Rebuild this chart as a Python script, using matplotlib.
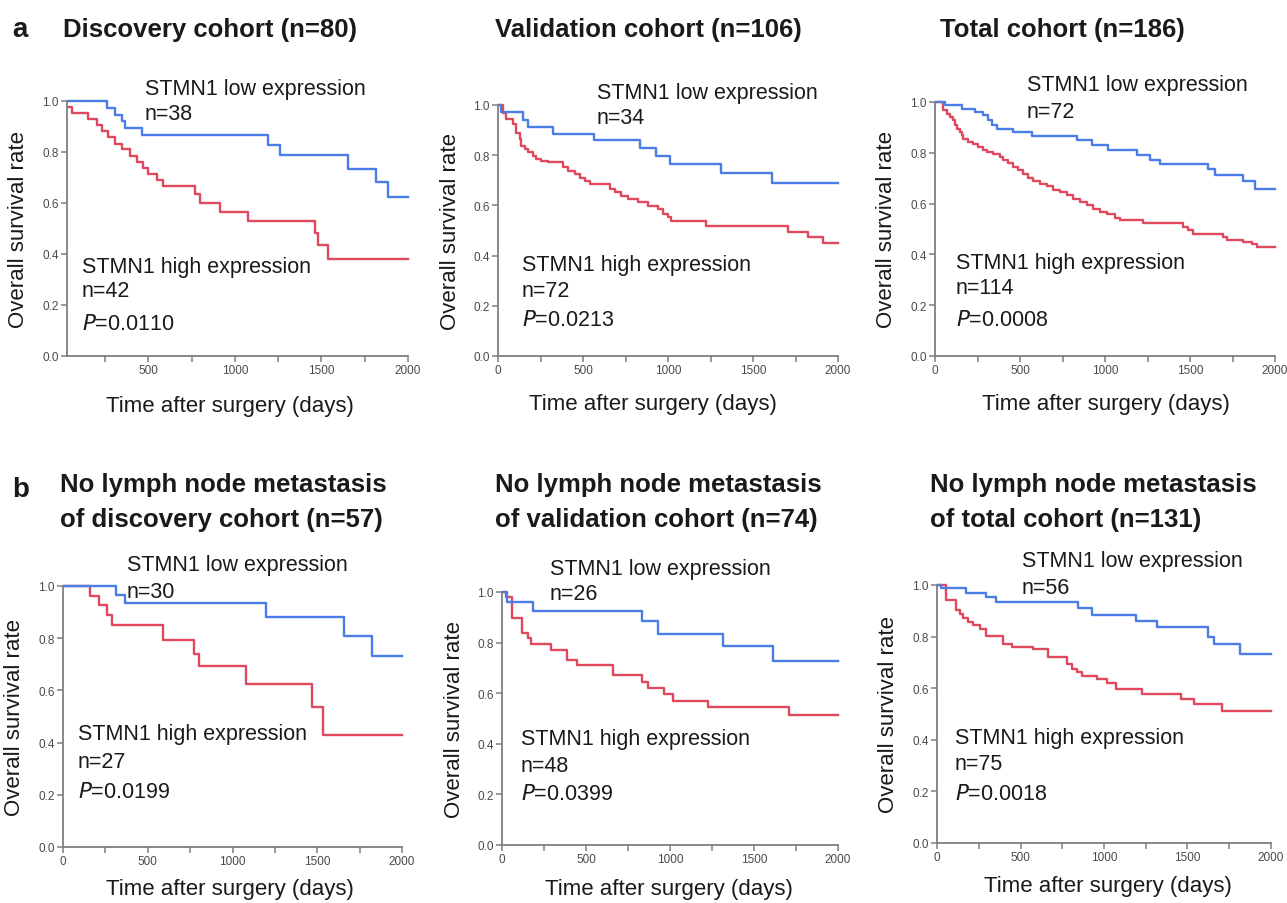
import matplotlib
matplotlib.use("Agg")
import matplotlib.pyplot as plt
from matplotlib.transforms import Bbox, TransformedBbox
from matplotlib.ticker import MultipleLocator, FormatStrFormatter

plt.rcParams['font.family'] = ['Liberation Sans', 'DejaVu Sans']

W, H = 1287, 904
BLUE = "#4a7de6"
RED = "#e0485e"
AXC = "#7f7f7f"
TXT = "#1a1a1a"

# ---------------- data (days, survival) ----------------
p1_low_t = [0, 260, 308, 346, 365, 462, 1192, 1263, 1654, 1817, 1885, 2000]
p1_low_s = [1.0, 0.974, 0.947, 0.921, 0.895, 0.868, 0.828, 0.787, 0.733, 0.681, 0.625, 0.625]
p1_high_t = [0, 20, 58, 154, 202, 231, 269, 308, 346, 394, 433, 471, 500, 548, 587,
             769, 798, 913, 1077, 1462, 1481, 1538, 2000]
p1_high_s = [1.0, 0.976, 0.952, 0.929, 0.905, 0.881, 0.857, 0.833, 0.810, 0.786, 0.762,
             0.738, 0.714, 0.690, 0.667, 0.635, 0.600, 0.565, 0.528, 0.484, 0.435, 0.380, 0.380]

p2_low_t = [0, 20, 147, 176, 324, 565, 833, 931, 1010, 1314, 1612, 2000]
p2_low_s = [1.0, 0.971, 0.941, 0.912, 0.885, 0.860, 0.830, 0.798, 0.766, 0.729, 0.690, 0.690]
p2_high_t = [0, 29, 49, 88, 108, 127, 137, 157, 176, 206, 225, 255, 294, 382, 412, 451,
             480, 510, 539, 657, 686, 725, 765, 824, 882, 941, 971, 1000, 1020, 1225,
             1706, 1824, 1912, 2000]
p2_high_s = [1.0, 0.970, 0.943, 0.923, 0.890, 0.864, 0.837, 0.824, 0.811, 0.797, 0.784,
             0.777, 0.771, 0.751, 0.738, 0.725, 0.711, 0.698, 0.685, 0.665, 0.652, 0.638,
             0.625, 0.612, 0.599, 0.585, 0.566, 0.552, 0.539, 0.519, 0.493, 0.473, 0.449, 0.449]

p3_low_t = [0, 59, 157, 235, 284, 314, 333, 363, 461, 569, 833, 922, 1020, 1186, 1265,
            1324, 1608, 1647, 1814, 1882, 2000]
p3_low_s = [1.0, 0.987, 0.974, 0.961, 0.948, 0.928, 0.908, 0.895, 0.882, 0.866, 0.849,
            0.829, 0.810, 0.790, 0.770, 0.755, 0.738, 0.711, 0.689, 0.659, 0.659]
p3_high_t = [0, 49, 69, 88, 108, 118, 127, 147, 157, 167, 196, 225, 255, 284, 304, 343,
             382, 402, 431, 461, 490, 520, 549, 578, 618, 657, 696, 735, 775, 814, 853,
             892, 931, 971, 1010, 1059, 1088, 1225, 1461, 1490, 1520, 1696, 1716, 1814,
             1863, 1892, 2000]
p3_high_s = [1.0, 0.967, 0.954, 0.941, 0.928, 0.908, 0.895, 0.882, 0.869, 0.856, 0.843,
             0.833, 0.823, 0.812, 0.803, 0.794, 0.783, 0.770, 0.760, 0.744, 0.731, 0.718,
             0.702, 0.689, 0.678, 0.668, 0.655, 0.644, 0.633, 0.619, 0.606, 0.593, 0.580,
             0.567, 0.558, 0.545, 0.534, 0.524, 0.508, 0.495, 0.482, 0.469, 0.455, 0.449,
             0.442, 0.429, 0.429]

p4_low_t = [0, 314, 363, 1196, 1657, 1824, 2000]
p4_low_s = [1.0, 0.967, 0.933, 0.881, 0.807, 0.730, 0.730]
p4_high_t = [0, 157, 212, 261, 290, 592, 771, 804, 1078, 1471, 1535, 2000]
p4_high_s = [1.0, 0.963, 0.926, 0.889, 0.852, 0.794, 0.741, 0.692, 0.623, 0.536, 0.430, 0.430]

p5_low_t = [0, 30, 182, 834, 929, 1318, 1615, 2000]
p5_low_s = [1.0, 0.962, 0.923, 0.884, 0.835, 0.785, 0.727, 0.727]
p5_high_t = [0, 25, 59, 117, 152, 172, 290, 389, 449, 662, 834, 868, 962, 1018, 1229, 1709, 2000]
p5_high_s = [1.0, 0.979, 0.898, 0.837, 0.818, 0.795, 0.771, 0.732, 0.712, 0.670, 0.646,
             0.621, 0.597, 0.571, 0.544, 0.515, 0.515]

p6_low_t = [0, 26, 176, 296, 356, 846, 930, 1192, 1316, 1620, 1656, 1816, 2000]
p6_low_s = [1.0, 0.987, 0.970, 0.955, 0.934, 0.910, 0.884, 0.861, 0.839, 0.800, 0.773, 0.734, 0.734]
p6_high_t = [0, 52, 116, 136, 156, 186, 216, 256, 292, 396, 452, 576, 666, 776, 806, 836,
             866, 956, 1016, 1072, 1226, 1462, 1536, 1706, 2000]
p6_high_s = [1.0, 0.941, 0.902, 0.886, 0.871, 0.857, 0.844, 0.831, 0.803, 0.773, 0.761,
             0.751, 0.719, 0.693, 0.674, 0.661, 0.648, 0.635, 0.619, 0.596, 0.577, 0.557,
             0.538, 0.512, 0.512]

titles = ["Discovery cohort (n=80)", "Validation cohort (n=106)", "Total cohort (n=186)",
          "No lymph node metastasis\nof discovery cohort (n=57)",
          "No lymph node metastasis\nof validation cohort (n=74)",
          "No lymph node metastasis\nof total cohort (n=131)"]
low_n = ["n=38", "n=34", "n=72", "n=30", "n=26", "n=56"]
high_n = ["n=42", "n=72", "n=114", "n=27", "n=48", "n=75"]
p_values = ["0.0110", "0.0213", "0.0008", "0.0199", "0.0399", "0.0018"]
panel_letters = ["a", "b"]

curves = [(p1_low_t, p1_low_s, p1_high_t, p1_high_s),
          (p2_low_t, p2_low_s, p2_high_t, p2_high_s),
          (p3_low_t, p3_low_s, p3_high_t, p3_high_s),
          (p4_low_t, p4_low_s, p4_high_t, p4_high_s),
          (p5_low_t, p5_low_s, p5_high_t, p5_high_s),
          (p6_low_t, p6_low_s, p6_high_t, p6_high_s)]

# ---------------- layout (pixels) ----------------
# left, right, top(y=1), bottom(y=0), xmin
boxes = [(67, 408, 102, 357, 30), (498, 838, 106, 357, 0), (935, 1275, 103, 357, 0),
         (63, 402, 587, 848, 0), (502, 838, 593, 846, 0), (937, 1271, 586, 844, 0)]
title_pos = [(63, 30), (495, 30), (940, 30), (60, 485), (495, 485), (930, 485)]
title_gap = 35
low_pos = [(145, 89, 115), (597, 93, 118), (1027, 85, 112),
           (127, 565, 592), (550, 569, 595), (1022, 562, 588)]
high_pos = [(82, 267, 292, 325), (522, 265, 292, 320), (956, 263, 289, 320),
            (78, 735, 762, 793), (521, 740, 767, 795), (955, 739, 765, 795)]
xlabel_pos = [(230, 407), (653, 405), (1106, 405), (230, 890), (669, 890), (1108, 887)]

fig = plt.figure(figsize=(W / 100, H / 100), dpi=100)

def fx(x):
    return x / W

def fy(y):
    return 1 - y / H

for i, (L, R, T, B, xmin) in enumerate(boxes):
    ax = fig.add_axes([fx(L), fy(B), (R - L) / W, (B - T) / H])
    lt, ls, ht, hs = curves[i]
    for t, s, c in [(ht, hs, RED), (lt, ls, BLUE)]:
        ln, = ax.step(t, s, where='post', color=c, lw=1.7)
        ln.set_clip_box(TransformedBbox(Bbox([[xmin, -0.03], [2010, 1.03]]), ax.transData))
    ax.set_xlim(xmin, 2000)
    ax.set_ylim(0, 1.0)
    for sp in ['top', 'right']:
        ax.spines[sp].set_visible(False)
    for sp in ['left', 'bottom']:
        ax.spines[sp].set_color(AXC)
        ax.spines[sp].set_linewidth(1.3)
    ax.xaxis.set_major_locator(MultipleLocator(500))
    ax.xaxis.set_minor_locator(MultipleLocator(250))
    ax.yaxis.set_major_locator(MultipleLocator(0.2))
    ax.yaxis.set_major_formatter(FormatStrFormatter('%.1f'))
    ax.tick_params(which='both', direction='out', length=4, width=1.1, color=AXC,
                   labelsize=8.5, labelcolor='#4a4a4a', pad=2)
    ax.patch.set_alpha(0)

    # texts
    tx, ty = title_pos[i]
    for k, line in enumerate(titles[i].split("\n")):
        fig.text(fx(tx), fy(ty + k * title_gap), line, fontsize=18.5, fontweight='bold',
                 ha='left', va='center', color=TXT)
    lx, ly1, ly2 = low_pos[i]
    fig.text(fx(lx), fy(ly1), "STMN1 low expression", fontsize=15.5, ha='left', va='center', color=TXT)
    fig.text(fx(lx), fy(ly2), low_n[i], fontsize=15.5, ha='left', va='center', color=TXT)
    hx, hy1, hy2, hy3 = high_pos[i]
    fig.text(fx(hx), fy(hy1), "STMN1 high expression", fontsize=15.5, ha='left', va='center', color=TXT)
    fig.text(fx(hx), fy(hy2), high_n[i], fontsize=15.5, ha='left', va='center', color=TXT)
    fig.text(fx(hx), fy(hy3), r"$\it{P}$=" + p_values[i], fontsize=15.5, ha='left', va='center', color=TXT)
    xx, xy = xlabel_pos[i]
    fig.text(fx(xx), fy(xy), "Time after surgery (days)", fontsize=16, ha='center', va='center', color=TXT)
    fig.text(fx(L - 48), fy((T + B) / 2), "Overall survival rate", fontsize=16,
             rotation=90, ha='center', va='center', color=TXT)

fig.text(fx(12), fy(30), panel_letters[0], fontsize=20, fontweight='bold', ha='left', va='center', color=TXT)
fig.text(fx(12), fy(490), panel_letters[1], fontsize=20, fontweight='bold', ha='left', va='center', color=TXT)

fig.savefig("out.png", dpi=100)
